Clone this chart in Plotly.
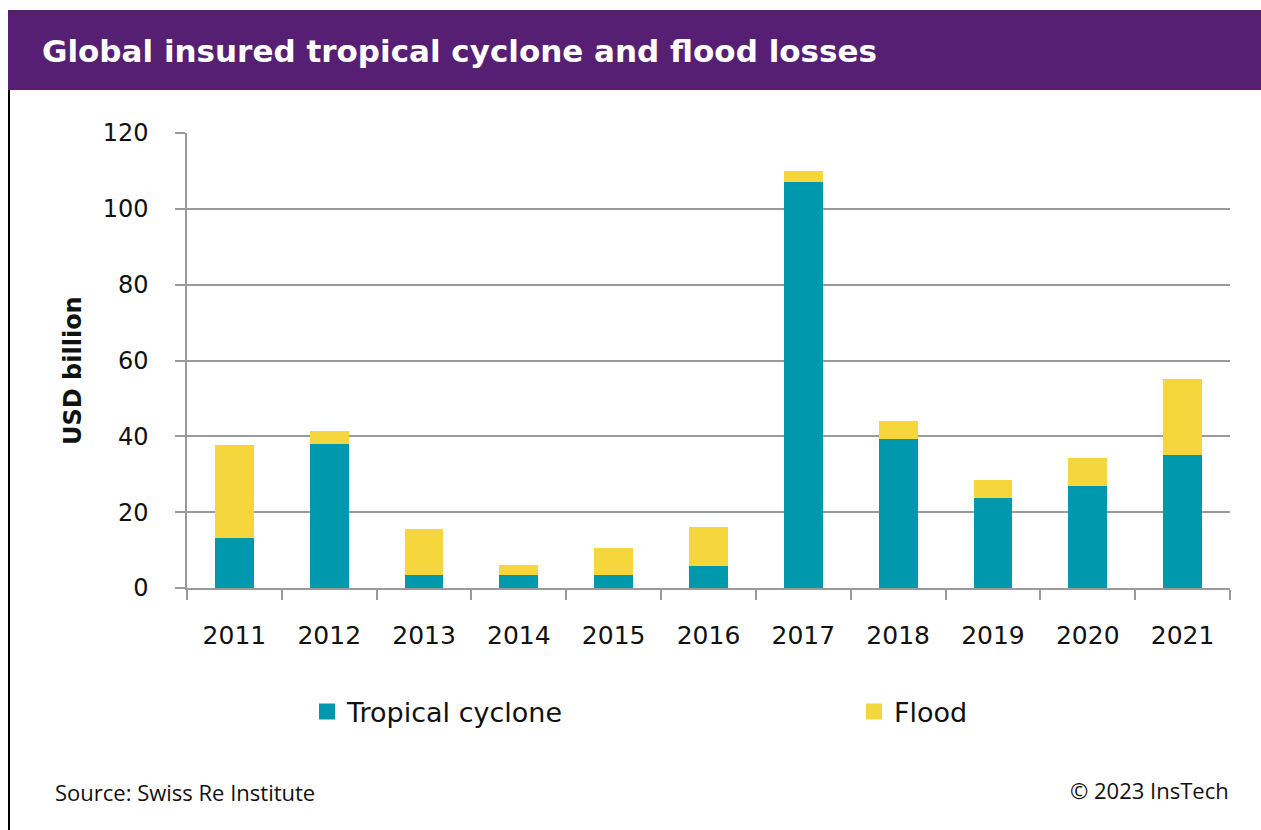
import plotly.graph_objects as go

years = ["2011", "2012", "2013", "2014", "2015", "2016", "2017", "2018", "2019", "2020", "2021"]
tropical_cyclone = [13.1, 37.9, 3.4, 3.4, 3.4, 5.9, 107.2, 39.3, 23.8, 26.9, 35.1]
flood = [24.5, 3.6, 12.1, 2.7, 7.1, 10.1, 2.7, 4.7, 4.6, 7.3, 20.0]
y_ticks = [0, 20, 40, 60, 80, 100, 120]

TEAL = "#0098AD"
YELLOW = "#F5D63D"
PURPLE = "#561F73"
GRID = "#9A9A9A"
FONT = "DejaVu Sans"

W, H = 1261, 830
L, R, T, B = 187, 1230, 133, 588


def px(x):
    return (x - L) / (R - L)


def py(y):
    return (B - y) / (B - T)


fig = go.Figure()
fig.add_trace(go.Bar(x=years, y=tropical_cyclone, name="Tropical cyclone",
                     marker=dict(color=TEAL, line=dict(width=0)), showlegend=False))
fig.add_trace(go.Bar(x=years, y=flood, name="Flood",
                     marker=dict(color=YELLOW, line=dict(width=0)), showlegend=False))
# legend entries
fig.add_trace(go.Scatter(x=[None], y=[None], mode="markers", name="Tropical cyclone",
                         marker=dict(symbol="square", size=18, color=TEAL), legend="legend"))
fig.add_trace(go.Scatter(x=[None], y=[None], mode="markers", name="Flood",
                         marker=dict(symbol="square", size=18, color=YELLOW), legend="legend2"))

legend_common = dict(orientation="h", xanchor="left", yanchor="middle",
                     font=dict(size=27, family=FONT, color="#111111"),
                     itemsizing="trace", traceorder="normal", bgcolor="rgba(0,0,0,0)")

fig.update_layout(
    width=W, height=H,
    margin=dict(l=L, r=W - R, t=T, b=H - B, pad=0),
    paper_bgcolor="white", plot_bgcolor="white",
    barmode="stack", bargap=0.59,
    font=dict(family=FONT, color="#111111"),
    legend=dict(x=px(307), y=py(712), **legend_common),
    legend2=dict(x=px(854), y=py(712), **legend_common),
    showlegend=True,
)

fig.update_xaxes(type="category", categoryorder="array", categoryarray=years,
                 showline=True, linecolor=GRID, linewidth=1.5,
                 ticks="outside", tickson="boundaries", ticklen=10, tickcolor=GRID, tickwidth=1.5,
                 tickfont=dict(size=25, family=FONT, color="#111111"),
                 ticklabelstandoff=24, showgrid=False, fixedrange=True)
fig.update_yaxes(range=[0, 120], tickvals=y_ticks,
                 showline=True, linecolor=GRID, linewidth=1.5,
                 ticks="outside", ticklen=10, tickcolor=GRID, tickwidth=1.5,
                 tickfont=dict(size=24, family=FONT, color="#111111"),
                 ticklabelstandoff=22,
                 showgrid=True, gridcolor=GRID, gridwidth=1.5, zeroline=False, fixedrange=True)

shapes = [
    dict(type="rect", xref="paper", yref="paper", x0=px(8), x1=px(1265), y0=py(90), y1=py(10),
         fillcolor=PURPLE, line=dict(width=0), layer="above"),
    dict(type="line", xref="paper", yref="paper", x0=px(9), x1=px(9), y0=py(90), y1=py(832),
         line=dict(color="black", width=2)),
]
fig.update_layout(shapes=shapes)

annotations = [
    dict(text="Global insured tropical cyclone and flood losses", xref="paper", yref="paper",
         x=px(40), y=py(51), xanchor="left", yanchor="middle", showarrow=False,
         font=dict(family="DejaVu Sans", size=31, color="white", weight=700)),
    dict(text="USD billion", xref="paper", yref="paper", x=px(73), y=py(371),
         xanchor="center", yanchor="middle", showarrow=False, textangle=-90,
         font=dict(family=FONT, size=24, color="#111111", weight=700)),
    dict(text="Source: Swiss Re Institute", xref="paper", yref="paper", x=px(53), y=py(792),
         xanchor="left", yanchor="middle", showarrow=False,
         font=dict(family="Open Sans", size=22, color="#111111")),
    dict(text="© 2023 InsTech", xref="paper", yref="paper", x=px(1231), y=py(790),
         xanchor="right", yanchor="middle", showarrow=False,
         font=dict(family="Open Sans", size=22, color="#111111")),
]
fig.update_layout(annotations=annotations)

fig.write_html("out.html")
